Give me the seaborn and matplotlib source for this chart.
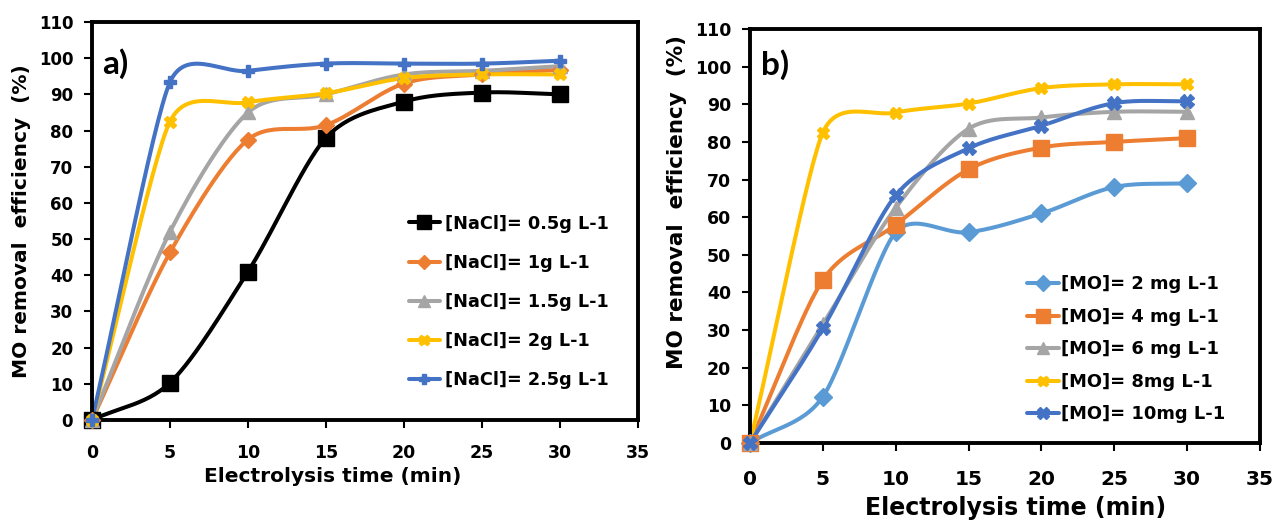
import numpy as np
import pandas as pd
import matplotlib
matplotlib.use("Agg")
import matplotlib.pyplot as plt
import seaborn as sns
from matplotlib.lines import Line2D

sns.set_theme(style="white")
FONT = ['DejaVu Sans']
W = 'bold'
plt.rcParams['font.family'] = FONT
plt.rcParams['font.weight'] = W
for k in ['text.color', 'axes.labelcolor', 'xtick.color', 'ytick.color', 'axes.edgecolor']:
    plt.rcParams[k] = 'black'

time_min = [0, 5, 10, 15, 20, 25, 30]

# Panel a: NaCl concentration
nacl_labels = ["[NaCl]= 0.5g L-1", "[NaCl]= 1g L-1", "[NaCl]= 1.5g L-1",
               "[NaCl]= 2g L-1", "[NaCl]= 2.5g L-1"]
nacl_05 = [0, 10.3, 41.0, 78.0, 88.0, 90.5, 90.0]
nacl_1 = [0, 46.3, 77.5, 81.5, 93.0, 95.5, 96.8]
nacl_15 = [0, 52.0, 85.0, 90.0, 95.5, 96.5, 97.8]
nacl_2 = [0, 82.5, 87.8, 90.3, 94.5, 95.5, 95.5]
nacl_25 = [0, 93.4, 96.5, 98.5, 98.5, 98.5, 99.3]

# Panel b: MO concentration
mo_labels = ["[MO]= 2 mg L-1", "[MO]= 4 mg L-1", "[MO]= 6 mg L-1",
             "[MO]= 8mg L-1", "[MO]= 10mg L-1"]
mo_2 = [0, 12.3, 56.0, 56.0, 61.0, 68.0, 69.0]
mo_4 = [0, 43.3, 58.0, 72.7, 78.5, 80.0, 81.0]
mo_6 = [0, 31.5, 62.5, 83.5, 86.5, 88.0, 88.0]
mo_8 = [0, 82.5, 87.8, 90.2, 94.3, 95.3, 95.3]
mo_10 = [0, 30.5, 65.8, 78.3, 84.3, 90.3, 90.8]

x_ticks = [0, 5, 10, 15, 20, 25, 30, 35]
y_ticks = list(range(0, 111, 10))

BLACK = "#000000"
ORANGE = "#ED7D31"
GRAY = "#A5A5A5"
YELLOW = "#FFC000"
BLUE = "#4472C4"
LBLUE = "#5B9BD5"


def smooth(x, y, sx, sy, n=30):
    """Excel-like smooth line: cubic Bezier segments through the data points,
    tangent length at each point reduced when neighbouring chords differ
    (computed in screen units)."""
    P = np.column_stack([np.asarray(x, float) * sx, np.asarray(y, float) * sy])
    m = len(P)
    T = np.zeros_like(P)
    for i in range(1, m - 1):
        La = np.linalg.norm(P[i] - P[i - 1])
        Lb = np.linalg.norm(P[i + 1] - P[i])
        f = (1 / 6.0) * np.sqrt(2 * min(La, Lb) / (La + Lb))
        T[i] = (P[i + 1] - P[i - 1]) * f
    xs, ys = [], []
    for i in range(m - 1):
        p1, p2 = P[i], P[i + 1]
        c1 = p1 + T[i] if i > 0 else p1 + (p2 - p1) / 3.0
        c2 = p2 - T[i + 1] if i + 1 < m - 1 else p2 - (p2 - p1) / 3.0
        t = np.linspace(0, 1, n)[:, None]
        b = ((1 - t) ** 3) * p1 + 3 * ((1 - t) ** 2) * t * c1 + 3 * (1 - t) * t ** 2 * c2 + t ** 3 * p2
        xs.append(b[:, 0] / sx); ys.append(b[:, 1] / sy)
    return np.concatenate(xs), np.concatenate(ys)


fig = plt.figure(figsize=(12.78, 5.21), dpi=100)
axa = fig.add_axes([92 / 1278, 1 - 420 / 521, 546 / 1278, 398 / 521])
axb = fig.add_axes([750 / 1278, 1 - 443 / 521, 510 / 1278, 414 / 521])


def draw(ax, series, labels, styles, fs_ty, fs_tx, fs_xlabel, fs_ylabel,
         xpad, panel, panel_xy, xl_xy, yl_xy, sx, sy):
    handles = []
    for vals, lab, (col, mk, ms, mew) in zip(series, labels, styles):
        cx, cy = smooth(time_min, vals, sx, sy)
        sns.lineplot(x=cx, y=cy, ax=ax, color=col, lw=2.9, sort=False,
                     estimator=None, zorder=2)
        ax.plot(time_min, vals, linestyle='none', marker=mk, ms=ms, color=col,
                mec=col, mew=mew, zorder=3, clip_on=False)
        handles.append(Line2D([], [], color=col, lw=2.9, marker=mk, ms=ms * 0.85,
                              mec=col, mew=mew))
    ax.set_xlim(0, 35)
    ax.set_ylim(0, 110)
    ax.set_xticks(x_ticks)
    ax.set_yticks(y_ticks)
    ax.tick_params(axis='y', direction='out', length=5.5, width=1.5,
                   labelsize=fs_ty, left=True, pad=8, color='black',
                   labelcolor='black')
    ax.tick_params(axis='x', direction='out', length=5.5, width=1.5,
                   labelsize=fs_tx, bottom=True, pad=xpad, color='black',
                   labelcolor='black')
    for lbl in ax.get_xticklabels() + ax.get_yticklabels():
        lbl.set_fontweight(W)
    for s in ax.spines.values():
        s.set_color('black')
        s.set_linewidth(2.8)
    ax.set_xlabel("Electrolysis time (min)", fontsize=fs_xlabel,
                  fontweight=W, color='black')
    ax.set_ylabel("MO removal  efficiency  (%)", fontsize=fs_ylabel,
                  fontweight=W, color='black')
    ax.xaxis.set_label_coords(*xl_xy)
    ax.yaxis.set_label_coords(*yl_xy)
    ax.text(panel_xy[0], panel_xy[1], panel, transform=ax.transAxes, fontsize=24,
            family=['Lato', 'DejaVu Sans'], fontweight='bold', va='top',
            color='black')
    return handles


sty_a = [(BLACK, 's', 12, 1), (ORANGE, 'D', 8, 1), (GRAY, '^', 9.5, 1),
         (YELLOW, 'X', 9, 1), (BLUE, 'P', 8.5, 1)]
ha = draw(axa, [nacl_05, nacl_1, nacl_15, nacl_2, nacl_25], nacl_labels,
          sty_a, 12, 12.5, 14.5, 14.5, 12, "a)", (0.018, 0.935),
          (0.441, -0.118), (-0.112, 0.5), 78 / 5, 398 / 110)
axa.legend(ha, nacl_labels, loc='upper left', bbox_to_anchor=(0.58, 0.516),
           frameon=False, prop={'weight': W, 'size': 12.7, 'family': FONT},
           handlelength=1.75, labelspacing=1.2, handletextpad=0.3,
           borderaxespad=0, borderpad=0)

sty_b = [(LBLUE, 'D', 9, 1), (ORANGE, 's', 11.5, 1), (GRAY, '^', 9.5, 1),
         (YELLOW, 'X', 9, 1), (BLUE, 'X', 9.5, 1)]
hb = draw(axb, [mo_2, mo_4, mo_6, mo_8, mo_10], mo_labels, sty_b,
          12.5, 14.5, 17, 15.5, 14, "b)", (0.022, 0.95),
          (0.52, -0.128), (-0.124, 0.582), 73 / 5, 414 / 110)
axb.legend(hb, mo_labels, loc='upper left', bbox_to_anchor=(0.543, 0.405),
           frameon=False, prop={'weight': W, 'size': 12.9, 'family': FONT},
           handlelength=1.8, labelspacing=0.81, handletextpad=0.1,
           borderaxespad=0, borderpad=0)

fig.savefig("out.png", dpi=100)
